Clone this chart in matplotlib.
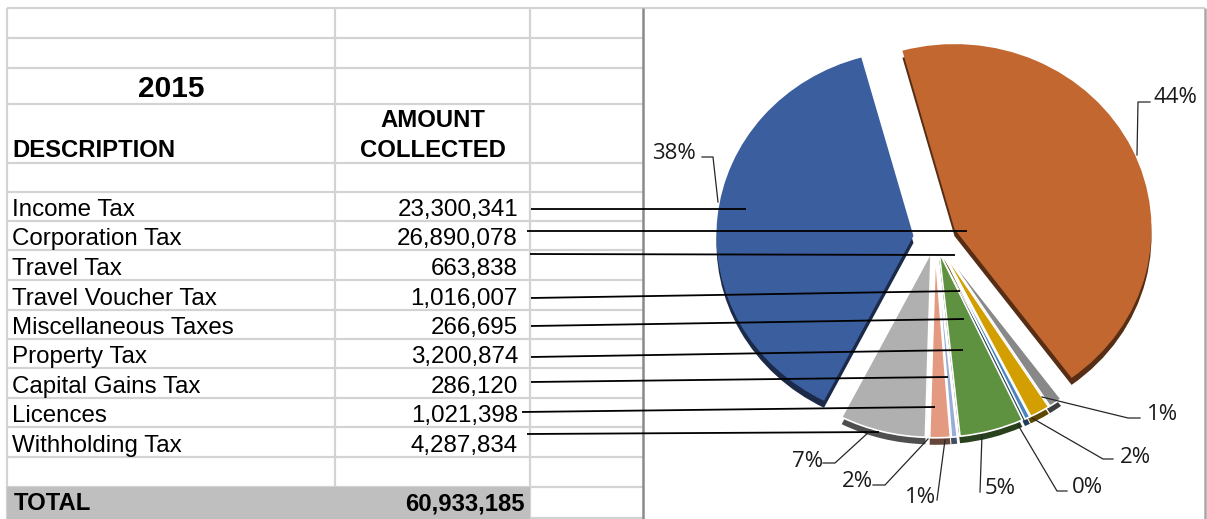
import numpy as np
import matplotlib
matplotlib.use("Agg")
import matplotlib.pyplot as plt
from matplotlib.patches import Rectangle
from matplotlib.colors import to_rgb

# ---- data -------------------------------------------------------------
year = "2015"
categories = ["Income Tax", "Corporation Tax", "Travel Tax", "Travel Voucher Tax",
              "Miscellaneous Taxes", "Property Tax", "Capital Gains Tax", "Licences",
              "Withholding Tax"]
amounts = [23300341, 26890078, 663838, 1016007, 266695, 3200874, 286120,
           1021398, 4287834]
header_desc = "DESCRIPTION"
header_amount = "AMOUNT\nCOLLECTED"
total_label = "TOTAL"

slice_colors = ["#3B5E9F", "#C1672F", "#888888", "#D29E00", "#4A85BE",
                "#5E9140", "#98ACD8", "#E39A80", "#B0B0B0"]
explode = [0.11, 0.11, 0.08, 0.08, 0.08, 0.08, 0.08, 0.08, 0.08]

# ---- helpers ----------------------------------------------------------
def whole_percents(vals):
    """Round shares to whole percents that still add up to 100."""
    shares = np.asarray(vals, dtype=float) / np.sum(vals) * 100
    out = np.floor(shares).astype(int)
    short = 100 - out.sum()
    order = np.argsort(-(shares - out), kind="stable")
    out[order[:short]] += 1
    return out


def shade(c, f):
    r, g, b = to_rgb(c)
    return (r * f, g * f, b * f)


W, H = 1207, 519
fig = plt.figure(figsize=(W / 100, H / 100), dpi=100)
fig.patch.set_facecolor("white")

# ---- spreadsheet layer (pixel coordinates, y downwards) ----------------
ax = fig.add_axes([0, 0, 1, 1])
ax.set_xlim(0, W)
ax.set_ylim(H, 0)
ax.axis("off")

grid_c = "#D3D3D3"
x_left, x_colb, x_colc, x_chart = 7, 335, 530, 643
header_rows = [8, 37.5, 67.5, 104, 163]
data_rows = [192, 221, 250, 280, 310, 339, 368, 398, 427, 457, 487]
row_lines = header_rows + data_rows

ax.hlines(8, x_left, 1205, color=grid_c, lw=1.6, zorder=1)
ax.hlines(row_lines[1:], x_left, x_chart, color=grid_c, lw=1.6, zorder=1)
ax.hlines(517.5, x_colc, x_chart, color=grid_c, lw=1.6, zorder=1)
ax.vlines([x_left, x_colb, x_colc], 8, H, color=grid_c, lw=1.6, zorder=1)

# total row band
ax.add_patch(Rectangle((x_left, 487), x_colc - x_left, H - 487,
                       facecolor="#BFBFBF", edgecolor="none", zorder=2))

# chart frame
ax.vlines(x_chart, 8, H, color="#8A8A8A", lw=1.8, zorder=3)
ax.vlines(1205, 8, H, color="#A8A8A8", lw=1.8, zorder=3)

fam = "Liberation Sans"
bold_size = 17.2
reg_size = 17.4
ax.text((x_left + x_colb) / 2, 97, year, ha="center", va="baseline",
        fontsize=21.5, fontweight="bold", family=fam, zorder=4)
ax.text(12, 157, header_desc, ha="left", va="baseline", fontsize=bold_size,
        fontweight="bold", family=fam, zorder=4)
amt1, amt2 = header_amount.split("\n")
ax.text((x_colb + x_colc) / 2, 127, amt1, ha="center", va="baseline",
        fontsize=bold_size, fontweight="bold", family=fam, zorder=4)
ax.text((x_colb + x_colc) / 2, 157, amt2, ha="center", va="baseline",
        fontsize=bold_size, fontweight="bold", family=fam, zorder=4)

for i, (name, val) in enumerate(zip(categories, amounts)):
    base = data_rows[i + 1] - 5
    ax.text(12, base, name, ha="left", va="baseline", fontsize=reg_size,
            family=fam, zorder=4)
    ax.text(518, base, f"{val:,}", ha="right", va="baseline", fontsize=reg_size,
            family=fam, zorder=4)

ax.text(14, 510, total_label, ha="left", va="baseline", fontsize=bold_size,
        fontweight="bold", family=fam, zorder=4)
ax.text(525, 510, f"{sum(amounts):,}", ha="right", va="baseline",
        fontsize=bold_size, fontweight="bold", family=fam, zorder=4)

# ---- exploded pie with a shallow 3-D rim --------------------------------
cx, cy = 935, 238          # pie centre (px)
rx, ry = 197, 185          # horizontal / vertical radius (px)
span = 1.4
pax = fig.add_axes([(cx - span * rx) / W, (H - cy - span * ry) / H,
                    2 * span * rx / W, 2 * span * ry / H])
pax.set_facecolor("none")

first_slice_angle = 207    # degrees, clockwise from 12 o'clock
start = 90 - first_slice_angle
depth = 7 / ry

rim, _ = pax.pie(amounts, explode=explode, colors=[shade(c, 0.45) for c in slice_colors],
                 startangle=start, counterclock=False, radius=1,
                 center=(0, -depth), wedgeprops=dict(linewidth=0))
faces, _ = pax.pie(amounts, explode=explode, colors=slice_colors,
                   startangle=start, counterclock=False, radius=1,
                   center=(0, 0), wedgeprops=dict(linewidth=0))
for w in faces[2:]:
    w.set_edgecolor("white")
    w.set_linewidth(1.2)
pax.set_xlim(-span, span)
pax.set_ylim(-span, span)
pax.set_aspect("auto")
pax.axis("off")

# ---- leader lines and percentage labels (pixel coordinates) ------------
top = fig.add_axes([0, 0, 1, 1])
top.set_xlim(0, W)
top.set_ylim(H, 0)
top.axis("off")
top.patch.set_alpha(0)

# lines running from each table row into its slice
row_leaders = [((531, 209), (746, 209)),
               ((527, 231), (967, 231)),
               ((530, 254), (955, 255)),
               ((531, 298), (960, 291)),
               ((531, 326), (964, 319)),
               ((531, 357), (963, 350)),
               ((531, 382), (948, 377)),
               ((522, 412), (935, 407)),
               ((527, 434), (879, 432))]
for (x0, y0), (x1, y1) in row_leaders:
    top.plot([x0, x1], [y0, y1], color="black", lw=1.3, solid_capstyle="butt")

pct = whole_percents(amounts)
# (anchor x, baseline y, alignment) for each percentage label, and its leader path
label_pos = [(696, 159, "right"), (1153, 103, "left"), (1147, 420, "left"),
             (1120, 463, "left"), (1072, 493, "left"), (985, 494, "left"),
             (905, 503, "left"), (842, 487, "left"), (792, 467, "left")]
label_paths = [[(702, 157), (713, 157), (718, 202)],
               [(1150, 102), (1138, 102), (1137, 155)],
               [(1042, 397), (1128, 418), (1140, 418)],
               [(1032, 418), (1103, 459), (1113, 459)],
               [(1018, 425), (1057, 491), (1067, 491)],
               [(982, 435), (980, 492)],
               [(945, 440), (937, 500)],
               [(928, 439), (885, 485), (873, 485)],
               [(870, 431), (835, 463), (823, 463)]]

for p, (lx, ly, ha), path in zip(pct, label_pos, label_paths):
    xs, ys = zip(*path)
    top.plot(xs, ys, color="#262626", lw=0.9)
    top.text(lx, ly, f"{p}%", ha=ha, va="baseline", fontsize=16,
             family="Open Sans", color="#1A1A1A")

fig.savefig("out.png", dpi=100, facecolor="white")
